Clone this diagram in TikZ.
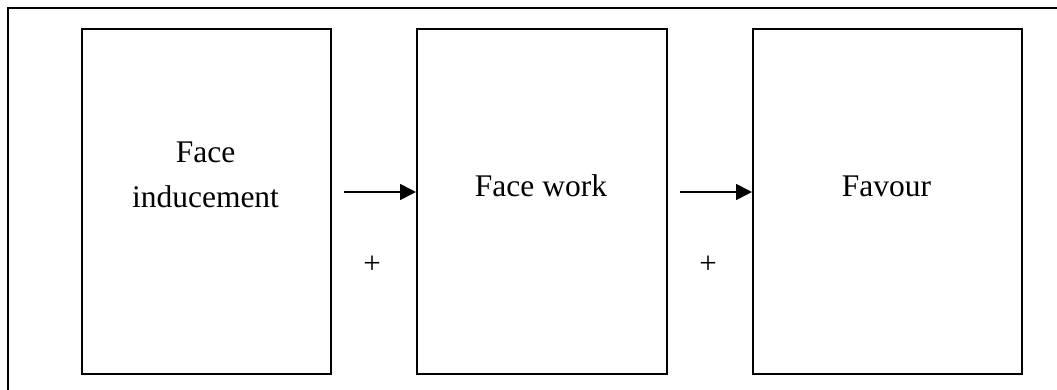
\documentclass[tikz,border=0pt]{standalone}
\usepackage{fontspec}
\setmainfont{Liberation Serif}
\usetikzlibrary{arrows.meta}
\begin{document}
\begin{tikzpicture}[x=1pt,y=-1pt,
  stage/.style={draw, line width=1.8pt, minimum width=#1, minimum height=345pt, anchor=north west, inner sep=0pt},
  caption/.style={font=\fontsize{31.5}{45}\selectfont, align=center},
  sign/.style={font=\fontsize{31}{34}\selectfont},
  flow/.style={line width=1.8pt, -{Triangle[length=16pt,width=16pt]}}]
\useasboundingbox (0,0) rectangle (1057,389);
% outer frame, running past the right and bottom page edges
\draw[line width=1.8pt] (8,400) -- (8,8) -- (1070,8);
% the three stages
\node[stage=249pt] (b1) at (81,28) {};
\node[stage=250pt] (b2) at (416,28) {};
\node[stage=269pt] (b3) at (752,28) {};
\node[caption] (t1) at (205.5,175) {Face\\inducement};
\node[caption] (t2) at (541,186) {Face work};
\node[caption] (t3) at (886.5,186) {Favour};
% connectors
\coordinate (s1) at (344,192);
\coordinate (s2) at (680,192);
\draw[flow] (s1) -- (s1 -| b2.west);
\draw[flow] (s2) -- (s2 -| b3.west);
\node[sign] (p1) at (372,265) {+};
\node[sign] (p2) at (708,265) {+};
\end{tikzpicture}
\end{document}
